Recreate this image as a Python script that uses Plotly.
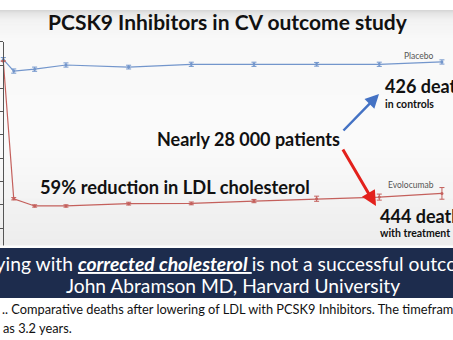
import plotly.graph_objects as go

# ---- data ----
weeks = [0, 4, 12, 24, 48, 72, 96, 120, 144, 168]
placebo_ldl = [92.4, 87.4, 88.2, 90.0, 89.1, 90.3, 90.3, 90.3, 90.3, 91.3]
placebo_err = [0.8, 0.9, 0.9, 0.9, 0.8, 0.9, 0.9, 0.8, 0.9, 0.9]
evolocumab_ldl = [91.7, 32.6, 29.5, 29.5, 30.5, 30.6, 31.6, 32.6, 33.3, 34.9]
evolocumab_err = [0.0, 0.5, 0.5, 0.5, 0.6, 0.6, 0.7, 1.1, 1.3, 2.5]
y_ticks = [0, 10, 20, 30, 40, 50, 60, 70, 80, 90, 100]

W, H = 453, 340


def px(x):
    return x / W


def py(y):
    return 1 - y / H


fig = go.Figure()

fig.add_trace(go.Scatter(
    x=weeks, y=placebo_ldl, mode="lines+markers",
    line=dict(color="#7396cc", width=1.2),
    marker=dict(color="#7396cc", size=3),
    error_y=dict(type="data", array=placebo_err, color="#7396cc", thickness=1, width=2.5),
    showlegend=False, cliponaxis=False))
fig.add_trace(go.Scatter(
    x=weeks, y=evolocumab_ldl, mode="lines+markers",
    line=dict(color="#c4605c", width=1.2),
    marker=dict(color="#c4605c", size=3),
    error_y=dict(type="data", array=evolocumab_err, color="#c4605c", thickness=1, width=2.5),
    showlegend=False, cliponaxis=False))

shapes = []
# slide background gradient
stops = [(10, (212, 212, 212)), (13, (228, 228, 228)), (20, (242, 242, 242)),
         (40, (249, 249, 249)), (150, (250, 250, 250)), (247, (236, 236, 236))]
for i in range(len(stops) - 1):
    (y0, c0), (y1, c1) = stops[i], stops[i + 1]
    n = min(max(1, int(y1 - y0)), 12)
    for k in range(n):
        t = (k + 0.5) / n
        c = tuple(int(round(c0[j] + (c1[j] - c0[j]) * t)) for j in range(3))
        ya = y0 + (y1 - y0) * k / n
        yb = y0 + (y1 - y0) * (k + 1) / n + 0.5
        shapes.append(dict(type="rect", xref="paper", yref="paper", x0=0, x1=1,
                           y0=py(yb), y1=py(ya), fillcolor="rgb(%d,%d,%d)" % c,
                           line=dict(width=0), layer="below"))
# thin light line above banner and banner
shapes.append(dict(type="rect", xref="paper", yref="paper", x0=0, x1=1,
                   y0=py(248), y1=py(245.5), fillcolor="#fdfdfd", line=dict(width=0), layer="above"))
shapes.append(dict(type="rect", xref="paper", yref="paper", x0=0, x1=1,
                   y0=py(298), y1=py(248), fillcolor="#1d2c4d", line=dict(width=0), layer="above"))

ann = []
BOLD = "Lato"


def text(t, x, y, size, color="#111111", xanchor="left", font=BOLD, bold=True):
    ann.append(dict(text=("<b>%s</b>" % t) if bold else t, x=px(x), y=py(y),
                    xref="paper", yref="paper", xanchor=xanchor, yanchor="middle",
                    showarrow=False, font=dict(family=font, size=size, color=color)))


text("PCSK9 Inhibitors in CV outcome study", 228, 22, 21, xanchor="center")
text("Placebo", 402, 56, 8.5, color="#555555", bold=False)
text("426 deaths", 383, 86, 18)
text("in controls", 383, 104, 10.5)
text("Nearly 28 000 patients", 248, 139, 18, xanchor="center")
text("59% reduction in LDL cholesterol", 174.5, 187, 18.3, xanchor="center")
text("Evolocumab", 386, 185, 8.5, color="#555555", bold=False)
text("444 deaths", 378, 216, 18)
text("with treatment", 378, 233, 10.5)

ann.append(dict(text="Dying with <b><i><u>corrected cholesterol </u></i></b>is not a successful outcome",
                x=px(232.5), y=py(263), xref="paper", yref="paper", xanchor="center", yanchor="middle",
                showarrow=False, font=dict(family="Lato", size=19.3, color="white")))
ann.append(dict(text="John Abramson MD, Harvard University",
                x=px(233), y=py(285), xref="paper", yref="paper", xanchor="center", yanchor="middle",
                showarrow=False, font=dict(family="Lato", size=19.2, color="white")))
ann.append(dict(text=".. Comparative deaths after lowering of LDL with PCSK9 Inhibitors. The timeframe",
                x=px(0), y=py(309), xref="paper", yref="paper", xanchor="left", yanchor="middle",
                showarrow=False, font=dict(family="Lato", size=12.8, color="#111111")))
ann.append(dict(text="as 3.2 years.",
                x=px(1), y=py(328), xref="paper", yref="paper", xanchor="left", yanchor="middle",
                showarrow=False, font=dict(family="Lato", size=12.8, color="#111111")))

# arrows
ann.append(dict(text="", x=px(379), y=py(94), xref="paper", yref="paper",
                ax=-37, ay=38, showarrow=True, arrowhead=2, arrowsize=1.1, arrowwidth=2.5,
                arrowcolor="#4472c4"))
ann.append(dict(text="", x=px(376), y=py(206), xref="paper", yref="paper",
                ax=-34, ay=-58, showarrow=True, arrowhead=2, arrowsize=1.0, arrowwidth=3,
                arrowcolor="#e3211c"))

x_left = -3.3 / 2.611
x_right = (W - 3.3) / 2.611
fig.update_layout(
    width=W, height=H, margin=dict(l=0, r=0, t=0, b=0),
    paper_bgcolor="white", plot_bgcolor="rgba(0,0,0,0)",
    shapes=shapes, annotations=ann,
    xaxis=dict(range=[x_left, x_right], domain=[0, 1], visible=False, fixedrange=True),
    yaxis=dict(range=[0, 100], domain=[py(274.7), py(41.7)], anchor="free", position=px(3.3),
               showline=True, linecolor="#555555", linewidth=1, ticks="outside", ticklen=4,
               tickcolor="#555555", tickvals=y_ticks, showticklabels=False, showgrid=False,
               zeroline=False, fixedrange=True),
)

fig.write_html("out.html")
